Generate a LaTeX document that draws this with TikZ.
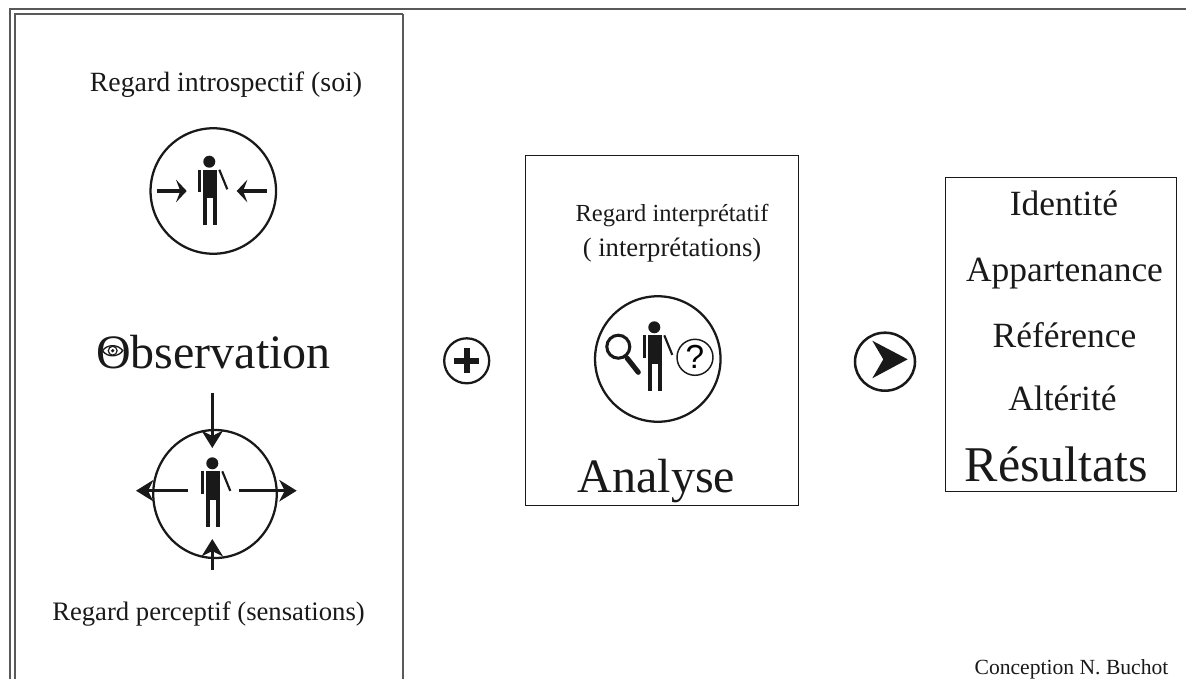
\documentclass[tikz,border=0pt]{standalone}
\usepackage{fontspec}
\setmainfont{Liberation Serif}
\setsansfont{Liberation Sans}
\usepackage{tikz}
\usetikzlibrary{arrows.meta,shapes.geometric}

\begin{document}
\begin{tikzpicture}[x=0.75pt,y=-0.75pt,
  frame line/.style={draw=black!65,line width=1.5pt},
  box node/.style={draw=black!90,line width=0.65pt,inner sep=0pt},
  round node/.style={circle,draw=black!90,line width=1.7pt,inner sep=0pt},
  label node/.style={font=\fontsize{20}{22}\selectfont,align=center,text=black!90},
  result node/.style={font=\fontsize{26.6}{30}\selectfont,text=black!90},
  title node/.style={font=\fontsize{36}{40}\selectfont,text=black!90},
  in arrow/.style={-{Stealth[length=8pt,width=17pt,inset=3.2pt]},line width=2.6pt,draw=black!90},
  out arrow/.style={-{Stealth[length=13pt,width=16pt,inset=4pt]},line width=2.6pt,draw=black!90},
  person/.pic={
    \fill[black!90] (0,0) circle (6);
    \fill[black!90] (-6,8) rectangle (8,36.5);
    \fill[black!90] (-6,36) rectangle (-2,63.5);
    \fill[black!90] (4,36) rectangle (8,63.5);
    \fill[black!90] (-11,8) rectangle (-8.3,30.5);
    \draw[black!90,line width=1.6pt] (10,8) -- (18,27.6);
  }]

  \useasboundingbox (0,0) rectangle (1186,679);

  % frames
  \draw[frame line] (1186,9) -- (10,9) -- (10,679);
  \draw[frame line] (403,14) -- (15,14) -- (15,679);
  \draw[frame line] (403,14) -- (403,679);
  \node[box node,minimum width=273*0.75pt,minimum height=350*0.75pt] (analysebox) at (662,330) {};
  \node[box node,minimum width=231*0.75pt,minimum height=314*0.75pt] (resultbox) at (1061,334) {};

  % observation
  \node[label node,font=\fontsize{20.9}{22}\selectfont] (intro) at (226,85) {Regard introspectif (soi)};
  \node[title node] (obs) at (213.5,352) {Observation};
  \node[label node] (percept) at (208.5,614) {Regard perceptif (sensations)};

  \node[round node,minimum size=125.5*0.75pt] (circleintro) at (213.3,191) {};
  \pic (personintro) at (209.3,161.7) {person};
  \coordinate (ila) at (156.7,191);
  \coordinate (ilb) at (186.7,191);
  \coordinate (ira) at (266.7,191);
  \coordinate (irb) at (236.7,191);
  \draw[in arrow] (ila) -- (ilb);
  \draw[in arrow] (ira) -- (irb);

  % eye in the O
  \fill[white] (112.7,350.7) ellipse (10 and 6.5);
  \draw[black!90,line width=1pt] (102.5,350.7) .. controls (107,344) and (118,344) .. (122.8,350.7)
    .. controls (118,357.5) and (107,357.5) .. (102.5,350.7);
  \draw[black!90,line width=0.9pt] (112.7,350.7) circle (4.4);
  \fill[black!90] (112.7,350.7) circle (1.8);

  \node[ellipse,draw=black!90,line width=1.7pt,inner sep=0pt,minimum width=123.5*0.75pt,minimum height=128*0.75pt] (circlepercept) at (215,494) {};
  \pic (personpercept) at (212.3,463.3) {person};
  \coordinate (pta) at (212.3,393);
  \coordinate (ptb) at (212.3,448);
  \coordinate (pba) at (212.3,570);
  \coordinate (pbb) at (212.3,539);
  \coordinate (pla) at (188.3,490.7);
  \coordinate (plb) at (136,490.7);
  \coordinate (pra) at (239.3,490.7);
  \coordinate (prb) at (296.7,490.7);
  \draw[out arrow] (pta) -- (ptb);
  \draw[out arrow] (pba) -- (pbb);
  \draw[out arrow] (pla) -- (plb);
  \draw[out arrow] (pra) -- (prb);

  % plus
  \node[round node,minimum size=45*0.75pt] (plus) at (466.7,360.8) {};
  \fill[black!90] (454,357.8) rectangle (479.3,363.8);
  \fill[black!90] (463.7,348.3) rectangle (469.7,373.3);

  % analyse
  \node[label node] (interp) at (672,233) {{\fontsize{18.4}{22}\selectfont Regard interprétatif}\\[4pt]( interprétations)};
  \node[round node,minimum size=125.5*0.75pt] (circleanalyse) at (657.8,359) {};
  \pic (personanalyse) at (654.3,327.3) {person};
  \draw[black!90,line width=2.3pt] (618.3,346.7) circle (11.5);
  \draw[black!90,line width=3.8pt,line cap=round] (627,358) -- (638.3,372.3);
  \node[circle,draw=black!90,line width=1.1pt,minimum size=36*0.75pt,inner sep=0pt,font=\sffamily\fontsize{25}{25}\selectfont] (question) at (695,357.3) {?};
  \node[title node] (analyse) at (656.5,481) {Analyse};

  % arrow
  \node[ellipse,draw=black!90,line width=1.9pt,inner sep=0pt,minimum width=60*0.75pt,minimum height=58*0.75pt] (next) at (885,361.7) {};
  \fill[black!90] (872.3,340.7) -- (907.7,359.3) -- (872.3,378.3) -- (883.3,359.3) -- cycle;

  % results
  \node[result node] (identite) at (1064,203) {Identité};
  \node[result node] (appart) at (1064.5,274) {Appartenance};
  \node[result node] (reference) at (1064.5,335) {Référence};
  \node[result node] (alterite) at (1062.5,398) {Altérité};
  \node[title node,font=\fontsize{37.5}{40}\selectfont] (resultats) at (1056.5,464) {Résultats};

  \node[font=\fontsize{16.2}{18}\selectfont,text=black!90] (credit) at (1071.5,669) {Conception N. Buchot};

\end{tikzpicture}
\end{document}
